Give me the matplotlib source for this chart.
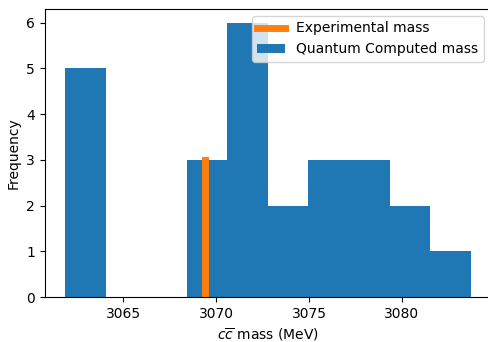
import numpy as np
import matplotlib.pyplot as plt

# histogram of computed masses (bin edges in MeV, counts per bin)
bin_edges = [3061.86, 3064.04, 3066.23, 3068.41, 3070.60, 3072.78,
             3074.96, 3077.15, 3079.33, 3081.52, 3083.70]
counts = [5, 0, 0, 3, 6, 2, 3, 3, 2, 1]

# experimental reference value
exp_mass = 3069.4
exp_height = 3

fig = plt.figure(figsize=(4.88, 3.42), dpi=100)
ax = fig.add_subplot(111)
fig.subplots_adjust(left=0.092, right=1.006, top=0.974, bottom=0.131)

ax.hist(bin_edges[:-1], bins=bin_edges, weights=counts,
        color='#1f77b4', label='Quantum Computed mass')
ax.plot([exp_mass, exp_mass], [0, exp_height], color='#ff7f0e', lw=5,
        label='Experimental mass')

ax.set_xlabel(r'$c\overline{c}$ mass (MeV)')
ax.set_ylabel('Frequency')
handles, labels = ax.get_legend_handles_labels()
ax.legend(handles[::-1], labels[::-1], loc='upper right')

fig.savefig('out.png', dpi=100)
